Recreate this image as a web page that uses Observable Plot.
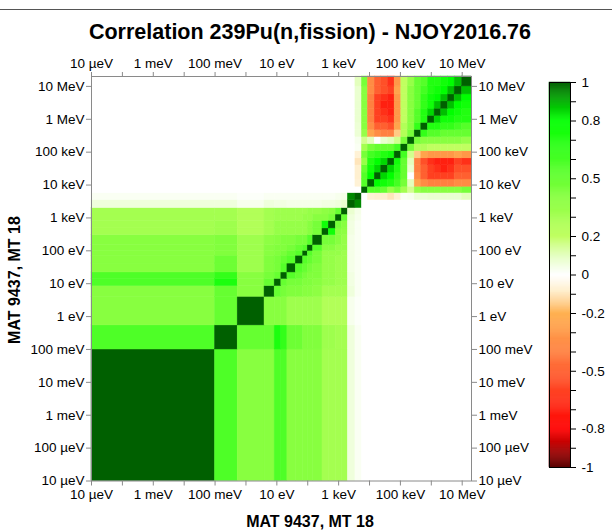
<!DOCTYPE html>
<html><head><meta charset="utf-8">
<script src="https://cdn.jsdelivr.net/npm/d3@7"></script>
<script src="https://cdn.jsdelivr.net/npm/@observablehq/plot@0.6"></script>
<style>
body{margin:0;background:#fff;}
#fig{position:relative;width:612px;height:531px;overflow:hidden;font-family:"Liberation Sans",Arial,sans-serif;color:#000;}
#fig svg{position:absolute;left:0;top:0;}
.sep{position:absolute;left:0;top:9px;width:612px;height:1px;background:#555;}
.title{position:absolute;left:0;width:620px;top:21px;text-align:center;font-weight:bold;font-size:21.5px;line-height:22px;white-space:nowrap;}
.xt{position:absolute;left:110px;width:400px;top:514px;text-align:center;font-weight:bold;font-size:16px;line-height:16px;white-space:nowrap;}
.yt{position:absolute;left:15px;top:280px;transform:translate(-50%,-50%) rotate(-90deg);font-weight:bold;font-size:16px;line-height:16px;white-space:nowrap;}
</style></head><body><div id="fig"><div class="sep"></div></div>
<script>
// group boundaries (eV)
const bounds = [1e-5, 0.1, 0.54, 4, 8.5, 14, 22, 41, 71, 100, 150, 300, 480, 810, 1270, 2000, 3500,
  5700, 8900, 14800, 24000, 40000, 65000, 107000, 176000, 290000, 475000, 780000, 1.28e6, 2.1e6, 3.5e6, 5.7e6, 1e7, 2e7];

// lower triangle, groups 1..16, correlation with groups 0..i-1
const lowCorr = [
  [0.57],
  [0.4, 0.5],
  [0.4, 0.5, 0.4],
  [0.57, 0.72, 0.4, 0.5],
  [0.57, 0.65, 0.4, 0.45, 0.5],
  [0.4, 0.48, 0.32, 0.42, 0.45, 0.55],
  [0.4, 0.48, 0.32, 0.42, 0.45, 0.5, 0.55],
  [0.4, 0.42, 0.32, 0.4, 0.42, 0.45, 0.5, 0.55],
  [0.4, 0.42, 0.32, 0.4, 0.42, 0.42, 0.45, 0.5, 0.55],
  [0.4, 0.42, 0.32, 0.38, 0.4, 0.42, 0.42, 0.45, 0.45, 0.55],
  [0.3, 0.32, 0.25, 0.3, 0.35, 0.35, 0.35, 0.35, 0.35, 0.4, 0.45],
  [0.3, 0.32, 0.25, 0.3, 0.35, 0.35, 0.35, 0.35, 0.35, 0.4, 0.45, 0.75],
  [0.3, 0.3, 0.25, 0.3, 0.32, 0.32, 0.32, 0.32, 0.35, 0.35, 0.4, 0.4, 0.45],
  [0.3, 0.3, 0.25, 0.3, 0.32, 0.32, 0.32, 0.32, 0.32, 0.35, 0.35, 0.38, 0.4, 0.5],
  [0.06, 0.06, 0.03, 0.06, 0.05, 0.05, 0.04, 0.04, 0.04, 0.04, 0.04, 0.05, 0.05, 0.06, 0.08],
  [0.02, 0.02, 0.01, 0.02, 0.02, 0.02, 0.02, 0.02, 0.02, 0.02, 0.02, 0.02, 0.02, 0.03, 0.04, 0.95]
];
// groups 17..32, correlation with groups 15..i-1
const highCorr = [
  [0, 0],
  [0, -0.07, 0.55],
  [0, -0.08, 0.55, 0.8],
  [0, -0.08, 0.5, 0.75, 0.85],
  [0, -0.1, 0.35, 0.7, 0.8, 0.85],
  [0, -0.07, 0.45, 0.6, 0.65, 0.7, 0.75],
  [0, 0.02, 0.3, 0.45, 0.5, 0.5, 0.5, 0.6],
  [0, 0.03, 0.15, 0.1, 0.0, 0.08, 0.1, 0.15, 0.45],
  [0, 0.07, 0.35, -0.25, -0.35, -0.4, -0.4, -0.15, 0.25, 0.45],
  [0, 0.07, 0.4, -0.35, -0.5, -0.5, -0.55, -0.25, 0.25, 0.4, 0.65],
  [0, 0.08, 0.4, -0.4, -0.6, -0.6, -0.65, -0.3, 0.2, 0.4, 0.55, 0.7],
  [0, 0.08, 0.4, -0.4, -0.6, -0.65, -0.7, -0.3, 0.2, 0.4, 0.55, 0.7, 0.85],
  [0, 0.08, 0.4, -0.4, -0.6, -0.7, -0.7, -0.3, 0.2, 0.4, 0.5, 0.65, 0.75, 0.88],
  [0, 0.08, 0.4, -0.4, -0.6, -0.65, -0.7, -0.3, 0.2, 0.4, 0.5, 0.65, 0.75, 0.8, 0.88],
  [0, 0.08, 0.4, -0.35, -0.5, -0.55, -0.6, -0.25, 0.2, 0.4, 0.5, 0.6, 0.7, 0.75, 0.8, 0.88],
  [0, 0.1, 0.45, -0.35, -0.5, -0.55, -0.65, -0.3, 0.2, 0.35, 0.5, 0.55, 0.7, 0.7, 0.75, 0.8, 0.88]
];

const decades = [1e-5, 1e-4, 1e-3, 1e-2, 1e-1, 1e0, 1e1, 1e2, 1e3, 1e4, 1e5, 1e6, 1e7];
const xTickValues = [1e-5, 1e-3, 1e-1, 1e1, 1e3, 1e5, 1e7];
const xTickLabels = ["10 µeV", "1 meV", "100 meV", "10 eV", "1 keV", "100 keV", "10 MeV"];
const yTickValues = decades;
const yTickLabels = ["10 µeV", "100 µeV", "1 meV", "10 meV", "100 meV", "1 eV", "10 eV", "100 eV", "1 keV", "10 keV", "100 keV", "1 MeV", "10 MeV"];
const cbTickValues = [1, 0.8, 0.5, 0.2, 0, -0.2, -0.5, -0.8, -1];
const cbTickLabels = ["1", "0.8", "0.5", "0.2", "0", "-0.2", "-0.5", "-0.8", "-1"];
const cbMinorTicks = [0.9, 0.7, 0.6, 0.4, 0.3, 0.1, -0.1, -0.3, -0.4, -0.6, -0.7, -0.9];

const titleText = "Correlation 239Pu(n,fission) - NJOY2016.76";
const axisTitle = "MAT 9437, MT 18";

// colour map (style)
const colorStops = [-1, -0.8, -0.6, -0.4, -0.2, -0.08, 0, 0.08, 0.2, 0.4, 0.6, 0.8, 0.9, 1];
const colorRange = ["#5a0000","#ff0000","#ff4020","#ff8040","#ffb050","#fff0d0","#ffffff","#eaffd0","#c0ff60","#88ff40","#44ff22","#00ff00","#00b000","#006000"];

const n = bounds.length - 1;
function corr(i, j) {
  if (i === j) return 1;
  if (j > i) [i, j] = [j, i];
  if (i <= 16) return lowCorr[i - 1][j];
  if (j >= 15) return highCorr[i - 17][j - 15];
  return 0;
}
const cells = [];
for (let i = 0; i < n; i++) for (let j = 0; j < n; j++) {
  cells.push({x1: bounds[j], x2: bounds[j + 1], y1: bounds[i], y2: bounds[i + 1], v: corr(i, j)});
}
const xLab = new Map(xTickValues.map((v, i) => [v, xTickLabels[i]]));
const yLab = new Map(yTickValues.map((v, i) => [v, yTickLabels[i]]));
const cbLab = new Map(cbTickValues.map((v, i) => [v, cbTickLabels[i]]));

const colorOpt = {type: "linear", domain: colorStops, range: colorRange, clamp: true};
const font = {fontFamily: "'Liberation Sans', Arial, sans-serif", fontSize: "13.5px", color: "#000", background: "transparent"};
const gray = "#8a8a8a";

const main = Plot.plot({
  width: 612, height: 531,
  marginLeft: 91, marginRight: 141, marginTop: 76, marginBottom: 50.5,
  x: {type: "log", domain: [1e-5, 2e7]},
  y: {type: "log", domain: [1e-5, 2e7]},
  color: colorOpt,
  style: font,
  marks: [
    Plot.rect(cells, {x1: "x1", x2: "x2", y1: "y1", y2: "y2", fill: "v", stroke: "v", strokeWidth: 0.5}),
    Plot.frame({stroke: gray}),
    Plot.axisX({anchor: "top", ticks: decades, tickFormat: d => xLab.get(d) || "", tickSize: 5, tickPadding: 4, stroke: gray, fill: "#000", label: null}),
    Plot.axisX({anchor: "bottom", ticks: decades, tickFormat: d => xLab.get(d) || "", tickSize: 5, tickPadding: 3, stroke: gray, fill: "#000", label: null}),
    Plot.axisY({anchor: "left", ticks: decades, tickFormat: d => yLab.get(d), tickSize: 5, tickPadding: 2, stroke: gray, fill: "#000", label: null}),
    Plot.axisY({anchor: "right", ticks: decades, tickFormat: d => yLab.get(d), tickSize: 5, tickPadding: 2, stroke: gray, fill: "#000", label: null})
  ]
});

const ramp = d3.range(-1, 1, 0.005).map(a => ({a, b: a + 0.005, v: a + 0.0025}));
const bar = Plot.plot({
  width: 612, height: 531,
  marginLeft: 549, marginRight: 42, marginTop: 82, marginBottom: 64,
  x: {domain: [0, 1], axis: null},
  y: {domain: [-1, 1], axis: null},
  color: colorOpt,
  style: font,
  marks: [
    Plot.rect(ramp, {x1: 0, x2: 1, y1: "a", y2: "b", fill: "v", stroke: "v", strokeWidth: 0.5}),
    Plot.frame({stroke: "#000"}),
    Plot.axisY({anchor: "right", ticks: cbMinorTicks, tickFormat: () => "", tickSize: 5, stroke: "#000", label: null}),
    Plot.axisY({anchor: "right", ticks: cbTickValues, tickFormat: d => cbLab.get(d), tickSize: 5, tickPadding: 6, stroke: "#000", fill: "#000", label: null})
  ]
});

const fig = document.getElementById("fig");
fig.appendChild(main);
fig.appendChild(bar);
const t = document.createElement("div"); t.className = "title"; t.textContent = titleText; fig.appendChild(t);
const xt = document.createElement("div"); xt.className = "xt"; xt.textContent = axisTitle; fig.appendChild(xt);
const yt = document.createElement("div"); yt.className = "yt"; yt.textContent = axisTitle; fig.appendChild(yt);
</script>
</body></html>
